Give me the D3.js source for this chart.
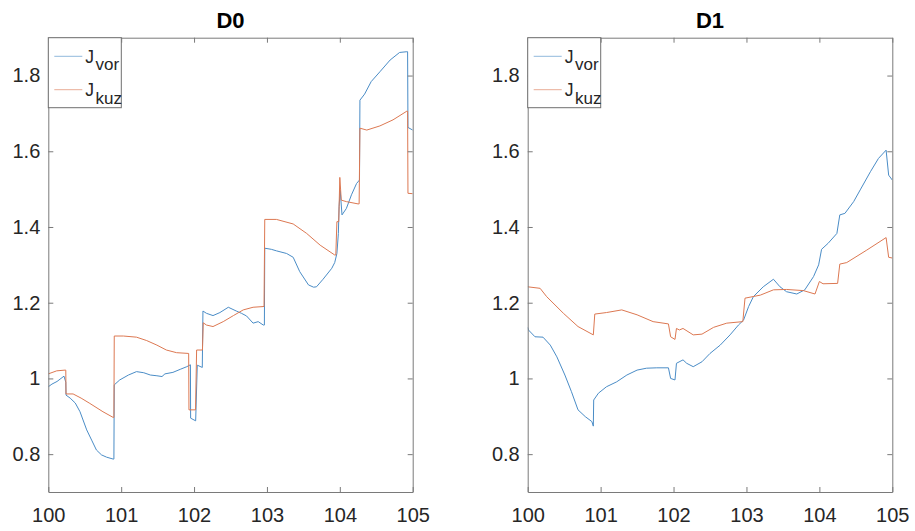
<!DOCTYPE html>
<html>
<head>
<meta charset="utf-8">
<script src="https://cdn.jsdelivr.net/npm/d3@7"></script>
<style>
  html, body { margin: 0; padding: 0; background: #fff; }
  svg { display: block; font-family: "Liberation Sans", Arial, sans-serif; }
</style>
</head>
<body>
<svg id="chart" width="915" height="531"></svg>
<script>
// Panel titles and legend names
const panelTitles = ["D0", "D1"];
const seriesNames = [{ base: "J", sub: "vor" }, { base: "J", sub: "kuz" }];
const seriesColors = ["#4a8cc6", "#dc7852"];

// Axis ticks
const xTicks = [100, 101, 102, 103, 104, 105];
const yTicks = [0.8, 1, 1.2, 1.4, 1.6, 1.8];
const xDomain = [100, 105];
const yDomain = [0.7, 1.9];

// D0: J_vor
const d0Vor = [
  [100.00,0.978],[100.05,0.985],[100.12,0.992],[100.215,1.006],[100.24,0.99],[100.243,0.956],
  [100.30,0.948],[100.37,0.935],[100.435,0.912],[100.527,0.864],[100.60,0.835],[100.66,0.811],
  [100.73,0.798],[100.80,0.792],[100.89,0.787],[100.90,0.787],[100.905,0.983],[100.98,0.996],
  [101.10,1.009],[101.21,1.018],[101.31,1.015],[101.40,1.009],[101.49,1.007],[101.56,1.005],
  [101.60,1.012],[101.71,1.016],[101.81,1.024],[101.90,1.031],[101.95,1.036],[101.953,0.895],
  [102.022,0.888],[102.044,1.035],[102.113,1.029],[102.122,1.178],[102.17,1.172],[102.26,1.166],
  [102.355,1.174],[102.47,1.188],[102.58,1.178],[102.65,1.172],[102.72,1.165],[102.81,1.146],
  [102.88,1.150],[102.95,1.141],[102.965,1.141],[102.97,1.344],[103.06,1.341],[103.13,1.337],
  [103.27,1.330],[103.36,1.320],[103.45,1.282],[103.57,1.247],[103.64,1.241],[103.68,1.242],
  [103.77,1.262],[103.89,1.291],[103.93,1.306],[103.96,1.330],[103.98,1.383],[103.99,1.454],
  [104.005,1.497],[104.03,1.432],[104.09,1.449],[104.16,1.485],[104.23,1.515],[104.27,1.524],
  [104.276,1.735],[104.34,1.751],[104.43,1.784],[104.55,1.810],[104.69,1.841],[104.82,1.861],
  [104.92,1.863],[104.93,1.863],[104.935,1.663],[105.00,1.656]
];

// D0: J_kuz
const d0Kuz = [
  [100.00,1.012],[100.115,1.020],[100.23,1.022],[100.24,1.022],[100.243,0.959],[100.34,0.959],
  [100.45,0.948],[100.57,0.934],[100.75,0.912],[100.89,0.897],[100.90,0.897],[100.905,1.112],
  [101.03,1.112],[101.21,1.109],[101.35,1.100],[101.49,1.088],[101.62,1.075],[101.76,1.068],
  [101.926,1.066],[101.93,0.917],[102.02,0.917],[102.035,1.075],[102.115,1.075],[102.126,1.147],
  [102.17,1.141],[102.26,1.137],[102.40,1.150],[102.54,1.166],[102.675,1.181],[102.81,1.188],
  [102.96,1.190],[102.97,1.420],[103.13,1.420],[103.36,1.408],[103.545,1.383],[103.73,1.352],
  [103.93,1.326],[103.945,1.326],[103.96,1.414],[103.985,1.414],[104.00,1.531],[104.02,1.471],
  [104.09,1.467],[104.25,1.461],[104.265,1.461],[104.276,1.661],[104.37,1.656],[104.55,1.667],
  [104.73,1.683],[104.92,1.706],[104.93,1.706],[104.935,1.489],[105.00,1.488]
];

// D1: J_vor
const d1Vor = [
  [100.00,1.135],[100.01,1.128],[100.10,1.110],[100.21,1.109],[100.31,1.088],[100.40,1.057],
  [100.51,1.009],[100.60,0.965],[100.69,0.917],[100.79,0.899],[100.88,0.886],[100.90,0.874],
  [100.905,0.943],[100.97,0.961],[101.08,0.978],[101.22,0.991],[101.36,1.009],[101.50,1.022],
  [101.63,1.027],[101.77,1.028],[101.93,1.028],[101.96,1.000],[102.02,0.996],[102.04,1.040],
  [102.13,1.049],[102.18,1.040],[102.27,1.031],[102.39,1.044],[102.50,1.066],[102.64,1.088],
  [102.775,1.115],[102.89,1.141],[102.96,1.154],[103.03,1.190],[103.095,1.216],[103.23,1.242],
  [103.37,1.262],[103.46,1.242],[103.55,1.229],[103.69,1.223],[103.80,1.234],[103.92,1.269],
  [103.99,1.300],[104.03,1.341],[104.12,1.357],[104.24,1.383],[104.28,1.432],[104.35,1.436],
  [104.47,1.467],[104.56,1.498],[104.70,1.546],[104.81,1.581],[104.915,1.603],[104.95,1.537],
  [105.00,1.524]
];

// D1: J_kuz
const d1Kuz = [
  [100.00,1.242],[100.17,1.238],[100.26,1.216],[100.49,1.172],[100.69,1.137],[100.90,1.115],
  [100.92,1.170],[101.08,1.174],[101.29,1.181],[101.50,1.168],[101.72,1.150],[101.93,1.144],
  [101.96,1.110],[102.02,1.103],[102.04,1.132],[102.08,1.128],[102.13,1.132],[102.27,1.115],
  [102.39,1.117],[102.55,1.135],[102.73,1.146],[102.95,1.150],[102.98,1.212],[103.19,1.220],
  [103.37,1.234],[103.55,1.235],[103.78,1.232],[103.94,1.223],[104.00,1.256],[104.05,1.250],
  [104.25,1.251],[104.28,1.302],[104.375,1.306],[104.65,1.339],[104.915,1.372],[104.95,1.320],
  [105.00,1.318]
];

const panels = [
  { title: panelTitles[0], left: 48.3, right: 412.7, series: [d0Vor, d0Kuz] },
  { title: panelTitles[1], left: 527.7, right: 892.3, series: [d1Vor, d1Kuz] }
];
const plotTop = 37.7, plotBottom = 492;
const axisColor = "#7a7a7a";
const textColor = "#262626";
const fmt = d => String(+d.toFixed(1));

const svg = d3.select("#chart");

panels.forEach((p, i) => {
  const x = d3.scaleLinear().domain(xDomain).range([p.left, p.right]);
  const y = d3.scaleLinear().domain(yDomain).range([plotBottom, plotTop]);
  const g = svg.append("g");

  // clip region for the data lines
  const clipId = "clip" + i;
  svg.append("clipPath").attr("id", clipId)
    .append("rect")
    .attr("x", p.left).attr("y", plotTop)
    .attr("width", p.right - p.left).attr("height", plotBottom - plotTop);

  // data lines
  const line = d3.line().x(d => x(d[0])).y(d => y(d[1]));
  p.series.forEach((s, k) => {
    g.append("path")
      .datum(s)
      .attr("clip-path", `url(#${clipId})`)
      .attr("fill", "none")
      .attr("stroke", seriesColors[k])
      .attr("stroke-width", 1)
      .attr("stroke-linejoin", "round")
      .attr("d", line);
  });

  // axes: ticks point inward on all four sides
  const styleAxis = sel => {
    sel.selectAll(".domain").attr("stroke", axisColor).attr("stroke-width", 1);
    sel.selectAll(".tick line").attr("stroke", axisColor).attr("stroke-width", 1);
    sel.selectAll(".tick text")
      .attr("fill", textColor)
      .style("font-size", "20px")
      .style("font-family", '"Liberation Sans", Arial, sans-serif');
  };

  g.append("g")
    .attr("transform", `translate(0,${plotBottom})`)
    .call(d3.axisBottom(x).tickValues(xTicks).tickFormat(d3.format("d"))
      .tickSizeInner(-5).tickSizeOuter(0).tickPadding(16))
    .call(styleAxis);

  g.append("g")
    .attr("transform", `translate(${p.left},0)`)
    .call(d3.axisLeft(y).tickValues(yTicks).tickFormat(fmt)
      .tickSizeInner(-5).tickSizeOuter(0).tickPadding(8))
    .call(styleAxis);

  g.append("g")
    .attr("transform", `translate(0,${plotTop})`)
    .call(d3.axisTop(x).tickValues(xTicks).tickFormat("")
      .tickSizeInner(-5).tickSizeOuter(0))
    .call(styleAxis);

  g.append("g")
    .attr("transform", `translate(${p.right},0)`)
    .call(d3.axisRight(y).tickValues(yTicks).tickFormat("")
      .tickSizeInner(-5).tickSizeOuter(0))
    .call(styleAxis);

  // title
  g.append("text")
    .attr("x", (p.left + p.right) / 2)
    .attr("y", 27.5)
    .attr("text-anchor", "middle")
    .attr("fill", "#000")
    .style("font-size", "22px")
    .style("font-weight", "bold")
    .text(p.title);

  // legend
  const lg = g.append("g").attr("transform", `translate(${p.left},${plotTop})`);
  lg.append("rect")
    .attr("x", 0).attr("y", 0)
    .attr("width", 73).attr("height", 70)
    .attr("fill", "#fff")
    .attr("stroke", "#6e6e6e")
    .attr("stroke-width", 1);
  seriesNames.forEach((n, k) => {
    const cy = 18.6 + k * 33.4;
    lg.append("line")
      .attr("x1", 6).attr("x2", 34)
      .attr("y1", cy).attr("y2", cy)
      .attr("stroke", seriesColors[k])
      .attr("stroke-width", 1)
      .attr("opacity", 0.6);
    const t = lg.append("text")
      .attr("x", 37)
      .attr("y", cy + 6.5)
      .attr("fill", textColor)
      .style("font-size", "17.5px");
    t.append("tspan").text(n.base);
    t.append("tspan")
      .attr("dx", 1.5)
      .attr("dy", 7.5)
      .style("font-size", "17px")
      .text(n.sub);
  });
});
</script>
</body>
</html>
